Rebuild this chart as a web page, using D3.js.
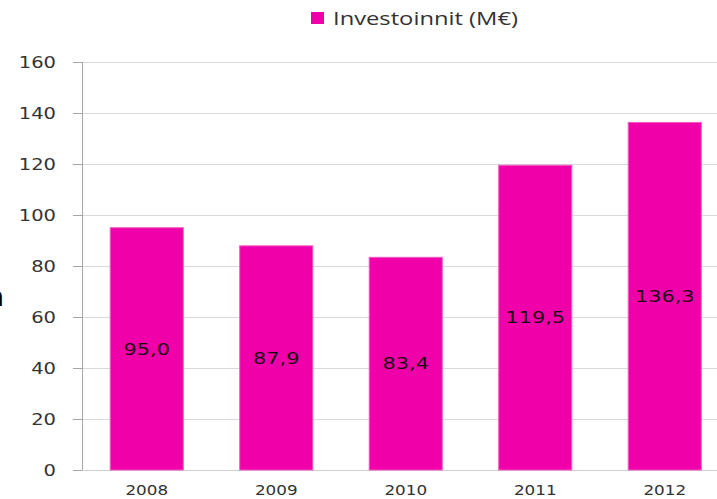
<!DOCTYPE html>
<html><head><meta charset="utf-8">
<script src="https://cdn.jsdelivr.net/npm/d3@7"></script>
<style>html,body{margin:0;padding:0;background:#fff;overflow:hidden}</style>
</head><body>
<script>
const years = ["2008","2009","2010","2011","2012"];
const investments = [95.0, 87.9, 83.4, 119.5, 136.3];
const valueLabels = ["95,0","87,9","83,4","119,5","136,3"];
const yTicks = [0,20,40,60,80,100,120,140,160];
const legendLabel = "Investoinnit (M€)";

const W = 717, H = 499;
const svg = d3.select("body").append("svg").attr("width", W).attr("height", H);

const x = d3.scaleBand().domain(years).range([82, 729.5]).paddingInner(0.436).paddingOuter(0.218);
const y = d3.scaleLinear().domain([0,160]).range([470, 62]);

function stext(g, txt, px, py, sx, opts) {
  const t = g.append("text")
    .attr("transform", `translate(${px},${py}) scale(${sx},1)`)
    .attr("text-anchor", opts.anchor || "middle")
    .attr("font-family", opts.family || "DejaVu Sans")
    .attr("font-size", opts.size)
    .attr("fill", opts.fill || "#333")
    .text(txt);
  if (opts.dy) t.attr("dy", opts.dy);
  return t;
}

// gridlines
svg.append("g").selectAll("line").data(yTicks.filter(d => d > 0)).join("line")
  .attr("x1", 82).attr("x2", W).attr("y1", d => y(d)).attr("y2", d => y(d))
  .attr("stroke", "#D9D9D9").attr("stroke-width", 1).attr("shape-rendering", "crispEdges");

// x baseline
svg.append("line").attr("x1", 73).attr("x2", W).attr("y1", y(0)).attr("y2", y(0))
  .attr("stroke", "#D0D0D0").attr("stroke-width", 1).attr("shape-rendering", "crispEdges");

// y axis
const yAxis = d3.axisLeft(y).tickValues(yTicks).tickSize(9).tickFormat("");
const gy = svg.append("g").attr("transform", "translate(82,0)").call(yAxis);
gy.select(".domain").attr("stroke", "#A6A6A6").attr("d", `M-0,${y(160)}V${y(0)}`);
gy.selectAll(".tick line").attr("stroke", "#A6A6A6");
gy.selectAll("path,line").attr("shape-rendering", "crispEdges");

const yl = svg.append("g");
yTicks.forEach(v => stext(yl, String(v), 56, y(v), 1.22, {anchor:"end", size:"16px", dy:"0.36em", fill:"#333"}));

// bars
svg.append("g").selectAll("rect").data(years).join("rect")
  .attr("x", d => x(d)).attr("width", x.bandwidth())
  .attr("y", (d,i) => y(investments[i])).attr("height", (d,i) => y(0) - y(investments[i]))
  .attr("fill", "#EF00A9").attr("stroke", "#F457C3").attr("stroke-width", 1);

// value labels
const vl = svg.append("g");
years.forEach((d,i) => stext(vl, valueLabels[i], x(d) + x.bandwidth()/2, (y(investments[i]) + y(0))/2, 1.3,
  {size:"16px", dy:"0.36em", fill:"#1a0a14"}));

// x labels
const xl = svg.append("g");
years.forEach(d => stext(xl, d, x(d) + x.bandwidth()/2, 495, 1.2, {size:"14px", fill:"#333"}));

// legend
svg.append("rect").attr("x", 311).attr("y", 12).attr("width", 13).attr("height", 12).attr("fill", "#EF00A9");
svg.append("text").attr("x", 333).attr("y", 25).attr("font-family", "Open Sans").attr("font-size", "18px")
  .attr("fill", "#333").attr("textLength", 185).attr("lengthAdjust", "spacingAndGlyphs").text(legendLabel);

// clipped stray text at left edge
svg.append("text").attr("x", 4).attr("y", 306).attr("text-anchor", "end").attr("font-family", "DejaVu Sans")
  .attr("font-size", "26px").attr("fill", "#000").text("n");
</script>
</body></html>
